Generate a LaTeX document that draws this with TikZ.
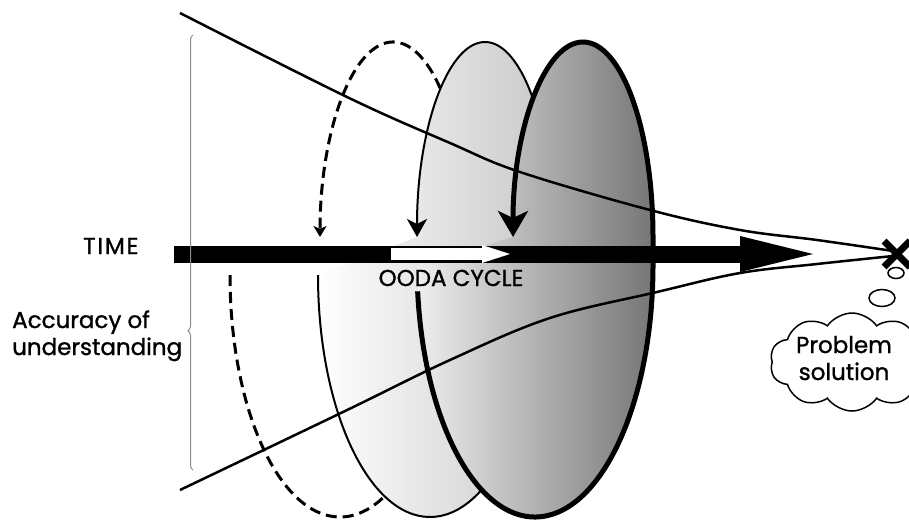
\documentclass[tikz,border=0pt]{standalone}
\usepackage{fontspec}
\setmainfont{Poppins}[FakeBold=1.2]
\usetikzlibrary{arrows.meta,shapes.symbols,decorations.pathreplacing}
\definecolor{ltL}{RGB}{255,255,255}
\definecolor{ltR}{RGB}{200,200,200}
\definecolor{dkL}{RGB}{238,238,238}
\definecolor{dkR}{RGB}{118,118,118}
\definecolor{bracegray}{RGB}{140,140,140}
\tikzset{
  funnel/.style={line width=2.5pt},
  dashcycle/.style={line width=3pt, dash pattern=on 11pt off 6pt},
  thincycle/.style={line width=2pt},
  thickcycle/.style={line width=5pt},
  lbl/.style={font=\fontsize{23}{27}\selectfont, inner sep=0pt},
}
\begin{document}
\begin{tikzpicture}[x=1pt,y=-1pt]
\useasboundingbox (0,0) rectangle (909,519);

% cycle 1 (dashed)
\draw[dashcycle, -{Stealth[length=11pt,width=13pt,inset=3pt]}]
  (393,237) ++(340:73 and 195) arc[start angle=340, end angle=180, x radius=73, y radius=195];
\draw[dashcycle] (230,275) arc[start angle=180, end angle=40, x radius=110, y radius=242];

% cycle 2 (light)
\shade[left color=ltL, right color=ltR]
  (417,237) arc[start angle=180, end angle=360, x radius=68, y radius=195]
  -- (542,275) arc[start angle=0, end angle=180, x radius=112, y radius=242] -- cycle;
\draw[thincycle, -{Stealth[length=18pt,width=20pt,inset=5pt]}]
  (553,237) arc[start angle=360, end angle=180, x radius=68, y radius=195];
\draw[thincycle] (318,275) arc[start angle=180, end angle=0, x radius=112, y radius=242];

% cycle 3 (dark)
\shade[left color=dkL, right color=dkR]
  (513,237) arc[start angle=180, end angle=360, x radius=70, y radius=195]
  -- (653,265) arc[start angle=0, end angle=180, x radius=118, y radius=252] -- cycle;
\draw[thickcycle, -{Stealth[length=26pt,width=30pt,inset=7pt]}]
  (535,265) ++(174:118 and 252) arc[start angle=174, end angle=0, x radius=118, y radius=252]
  -- (653,237) arc[start angle=360, end angle=180, x radius=70, y radius=195];

% time bar
\fill (174,245.5) rectangle (742,262.5);
\fill (740,236) -- (813,254) -- (740,272) -- cycle;
\fill[white] (391,248) rectangle (484,260);
\fill[white] (482,245) -- (510,254) -- (482,263) -- cycle;

% funnel
\draw[funnel] plot[smooth, tension=0.6] coordinates
  {(180,13) (347,97) (450,143) (520,172) (650,210) (740,230) (817,240) (893,251)};
\draw[funnel] plot[smooth, tension=0.6] coordinates
  {(180,490) (343,412) (450,360) (550,318) (657,292) (740,273) (817,264) (893,256)};

% solution mark and thought
\draw[line width=7pt] (884,241) -- (910,267) (884,267) -- (910,241);
\draw[line width=1.5pt, fill=white] (896,273) ellipse[x radius=8, y radius=5.5];
\draw[line width=1.5pt] (882,298) ellipse[x radius=13, y radius=8.5];
\node[cloud, cloud puffs=10, cloud puff arc=110, aspect=1.7, draw, line width=1.5pt,
      minimum width=164pt, minimum height=98pt] (cloud) at (852,362) {};
\node[lbl, anchor=base, align=center] (sol) at (844,380) {Problem\\solution};

% labels
\node[lbl, anchor=base west] (time) at (83,254) {\addfontfeature{LetterSpace=8}TIME};
\node[lbl, anchor=base] (ooda) at (451,286) {OODA CYCLE};
\node[lbl, anchor=base west, align=left] (acc) at (12,355) {Accuracy of\\understanding};

% brace
\draw[bracegray, line width=1pt, decorate, decoration={brace, amplitude=5pt, aspect=0.32}]
  (193,470) -- (193,35);
\end{tikzpicture}
\end{document}
